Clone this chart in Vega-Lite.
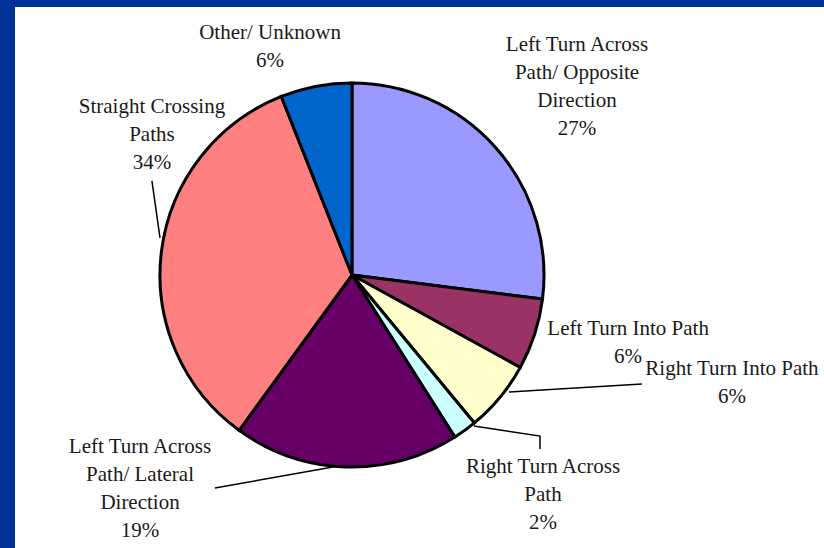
{
  "$schema": "https://vega.github.io/schema/vega-lite/v6.json",
  "autosize": {"type": "none"},
  "width": 809,
  "height": 541,
  "padding": {"left": 15, "top": 7, "right": 0, "bottom": 0},
  "background": "#003399",
  "config": {"view": {"fill": "white", "stroke": null}},
  "datasets": {
    "slices": [
      {"category": "Left Turn Across Path/ Opposite Direction", "pct": 27},
      {"category": "Left Turn Into Path", "pct": 6},
      {"category": "Right Turn Into Path", "pct": 6},
      {"category": "Right Turn Across Path", "pct": 2},
      {"category": "Left Turn Across Path/ Lateral Direction", "pct": 19},
      {"category": "Straight Crossing Paths", "pct": 34},
      {"category": "Other/ Unknown", "pct": 6}
    ],
    "labels": [
      {"text": "Left Turn Across\nPath/ Opposite\nDirection\n27%", "lx": 117.2, "ly": 119.8},
      {"text": "Left Turn Into Path\n6%", "lx": 143.8, "ly": -28.1},
      {"text": "Right Turn Into Path\n6%", "lx": 197.9, "ly": -49.0},
      {"text": "Right Turn Across\nPath\n2%", "lx": 99.5, "ly": -100.0},
      {"text": "Left Turn Across\nPath/ Lateral\nDirection\n19%", "lx": -110.4, "ly": -89.6},
      {"text": "Straight Crossing\nPaths\n34%", "lx": -104.2, "ly": 87.5},
      {"text": "Other/ Unknown\n6%", "lx": -42.7, "ly": 126.0}
    ],
    "leaders": [
      {"label": "Straight Crossing Paths", "pt": 1, "lx": -104.2, "ly": 49.0},
      {"label": "Straight Crossing Paths", "pt": 2, "lx": -100.0, "ly": 19.3},
      {"label": "Right Turn Into Path", "pt": 1, "lx": 81.8, "ly": -60.9},
      {"label": "Right Turn Into Path", "pt": 2, "lx": 151.0, "ly": -56.8},
      {"label": "Right Turn Across Path", "pt": 1, "lx": 63.5, "ly": -78.6},
      {"label": "Right Turn Across Path", "pt": 2, "lx": 97.9, "ly": -83.9},
      {"label": "Right Turn Across Path", "pt": 3, "lx": 97.9, "ly": -90.6},
      {"label": "Left Turn Across Path/ Lateral Direction", "pt": 1, "lx": -71.4, "ly": -110.9},
      {"label": "Left Turn Across Path/ Lateral Direction", "pt": 2, "lx": -9.9, "ly": -100.0}
    ]
  },
  "layer": [
    {
      "data": {"name": "slices"},
      "transform": [{"window": [{"op": "row_number", "as": "idx"}]}],
      "mark": {"type": "arc", "outerRadius": 192, "stroke": "black", "strokeWidth": 3},
      "encoding": {
        "theta": {"field": "pct", "type": "quantitative", "stack": true},
        "order": {"field": "idx", "type": "quantitative"},
        "color": {
          "field": "category",
          "type": "nominal",
          "legend": null,
          "scale": {
            "domain": [
              "Left Turn Across Path/ Opposite Direction",
              "Left Turn Into Path",
              "Right Turn Into Path",
              "Right Turn Across Path",
              "Left Turn Across Path/ Lateral Direction",
              "Straight Crossing Paths",
              "Other/ Unknown"
            ],
            "range": ["#9999ff", "#993366", "#ffffcc", "#ccffff", "#660066", "#ff8080", "#0066cc"]
          }
        },
        "x": {"datum": 0, "type": "quantitative", "scale": {"domain": [-175.52, 245.83], "nice": false, "zero": false}, "axis": null},
        "y": {"datum": 0, "type": "quantitative", "scale": {"domain": [-142.19, 139.58], "nice": false, "zero": false}, "axis": null}
      }
    },
    {
      "data": {"name": "leaders"},
      "mark": {"type": "line", "color": "black", "strokeWidth": 1.5},
      "encoding": {
        "x": {"field": "lx", "type": "quantitative"},
        "y": {"field": "ly", "type": "quantitative"},
        "detail": {"field": "label", "type": "nominal"},
        "order": {"field": "pt", "type": "quantitative"}
      }
    },
    {
      "data": {"name": "labels"},
      "mark": {"type": "text", "lineBreak": "\n", "font": "Liberation Serif", "fontSize": 21, "lineHeight": 28, "align": "center", "baseline": "middle", "color": "#1a1a1a"},
      "encoding": {
        "x": {"field": "lx", "type": "quantitative"},
        "y": {"field": "ly", "type": "quantitative"},
        "text": {"field": "text", "type": "nominal"}
      }
    }
  ]
}
